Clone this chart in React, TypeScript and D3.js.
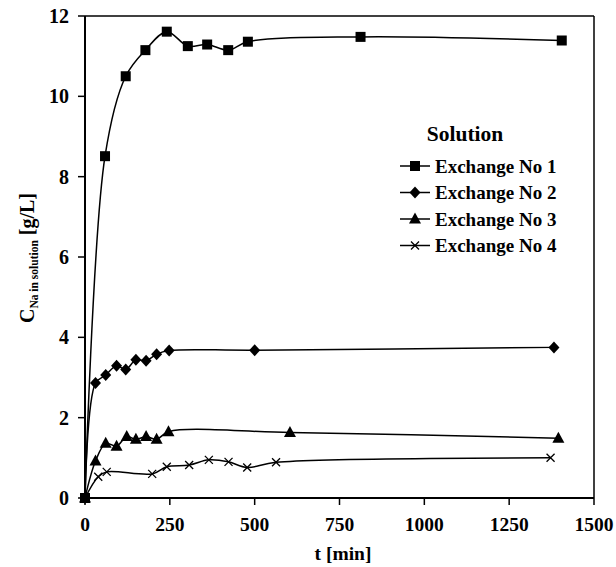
import React from "react";
import * as d3 from "d3";

const xTicks = [0, 250, 500, 750, 1000, 1250, 1500];
const yTicks = [0, 2, 4, 6, 8, 10, 12];

const t1 = [0, 59, 120, 178, 241, 303, 360, 422, 480, 812, 1405];
const c1 = [0, 8.51, 10.5, 11.15, 11.61, 11.25, 11.29, 11.15, 11.36, 11.48, 11.39];
const t2 = [0, 31, 61, 93, 120, 150, 180, 211, 248, 500, 1382];
const c2 = [0, 2.86, 3.06, 3.29, 3.2, 3.44, 3.42, 3.58, 3.67, 3.68, 3.75];
const t3 = [0, 31, 61, 93, 123, 150, 180, 211, 246, 604, 1395];
const c3 = [0, 0.92, 1.36, 1.29, 1.53, 1.46, 1.53, 1.46, 1.65, 1.63, 1.49];
const t4 = [0, 39, 64, 198, 241, 307, 365, 423, 478, 563, 1372];
const c4 = [0, 0.53, 0.65, 0.6, 0.78, 0.82, 0.95, 0.9, 0.76, 0.89, 1.0];

const seriesNames = ["Exchange No 1", "Exchange No 2", "Exchange No 3", "Exchange No 4"];
const markerKinds = ["square", "diamond", "triangle", "cross"];

const W = 616, H = 567;
const L = 85, R = 594, T = 16, B = 498;
const FONT = "'Liberation Serif', 'Times New Roman', serif";

function Marker({ kind, x, y }: { kind: string; x: number; y: number }) {
  if (kind === "square") return <rect x={x - 5} y={y - 5} width={10} height={10} fill="#000" />;
  if (kind === "diamond")
    return <path d={`M${x},${y - 6}L${x + 5.5},${y}L${x},${y + 6}L${x - 5.5},${y}Z`} fill="#000" />;
  if (kind === "triangle")
    return <path d={`M${x},${y - 6.5}L${x + 6},${y + 4.5}L${x - 6},${y + 4.5}Z`} fill="#000" />;
  return (
    <path d={`M${x - 4},${y - 4}L${x + 4},${y + 4}M${x - 4},${y + 4}L${x + 4},${y - 4}`} stroke="#000" strokeWidth={1.3} fill="none" />
  );
}

export default function App() {
  const x = d3.scaleLinear().domain([0, 1500]).range([L, R]);
  const y = d3.scaleLinear().domain([0, 12]).range([B, T]);
  const series = [
    { t: t1, c: c1 },
    { t: t2, c: c2 },
    { t: t3, c: c3 },
    { t: t4, c: c4 },
  ];
  const line = d3
    .line<[number, number]>()
    .x((d) => x(d[0]))
    .y((d) => y(d[1]))
    .curve(d3.curveCatmullRom.alpha(0.5));

  return (
    <svg width={W} height={H} style={{ position: "absolute", left: 0, top: 0, background: "#fff" }} fontFamily={FONT}>
      <rect x={0} y={0} width={W} height={H} fill="#fff" />
      {/* frame */}
      <line x1={L} y1={T} x2={R} y2={T} stroke="#000" strokeWidth={1.5} />
      <line x1={R} y1={T} x2={R} y2={B} stroke="#000" strokeWidth={1.5} />
      <line x1={L} y1={B} x2={R} y2={B} stroke="#000" strokeWidth={2} />
      <line x1={L} y1={T} x2={L} y2={B} stroke="#000" strokeWidth={2} />
      {/* y ticks */}
      {yTicks.map((v) => (
        <g key={"y" + v}>
          <line x1={L - 7} x2={L} y1={y(v)} y2={y(v)} stroke="#000" strokeWidth={1.5} />
          <text x={L - 16} y={y(v)} dy="0.35em" textAnchor="end" fontSize={20} fontWeight="bold">
            {v}
          </text>
        </g>
      ))}
      {/* x ticks */}
      {xTicks.map((v) => (
        <g key={"x" + v}>
          <line x1={x(v)} x2={x(v)} y1={B} y2={B + 7} stroke="#000" strokeWidth={1.5} />
          <text x={x(v)} y={524} dy="0.35em" textAnchor="middle" fontSize={19.5} fontWeight="bold">
            {v}
          </text>
        </g>
      ))}
      <text x={343} y={553} dy="0.35em" textAnchor="middle" fontSize={19.5} fontWeight="bold">
        t [min]
      </text>
      <text transform={`translate(27,258) rotate(-90)`} textAnchor="middle" dy="0.35em" fontWeight="bold" fontSize={20}>
        C<tspan fontSize={11.5} dy="4">Na in solution</tspan>
        <tspan dy="-4"> [g/L]</tspan>
      </text>
      {/* series */}
      {series.map((s, i) => {
        const pts = s.t.map((tv, j) => [tv, s.c[j]] as [number, number]);
        return (
          <g key={"s" + i}>
            <path d={line(pts) || ""} fill="none" stroke="#000" strokeWidth={1.5} />
            {pts.map((p, j) => (
              <Marker key={j} kind={markerKinds[i]} x={x(p[0])} y={y(p[1])} />
            ))}
          </g>
        );
      })}
      {/* legend */}
      <text x={465} y={133} dy="0.35em" textAnchor="middle" fontSize={21.5} fontWeight="bold">
        Solution
      </text>
      {seriesNames.map((n, i) => {
        const ly = 166 + i * 26.5;
        return (
          <g key={"l" + i}>
            <line x1={400} x2={430} y1={ly} y2={ly} stroke="#000" strokeWidth={1.5} />
            <Marker kind={markerKinds[i]} x={415} y={ly} />
            <text x={435} y={ly} dy="0.35em" fontSize={19} fontWeight="bold">
              {n}
            </text>
          </g>
        );
      })}
    </svg>
  );
}
